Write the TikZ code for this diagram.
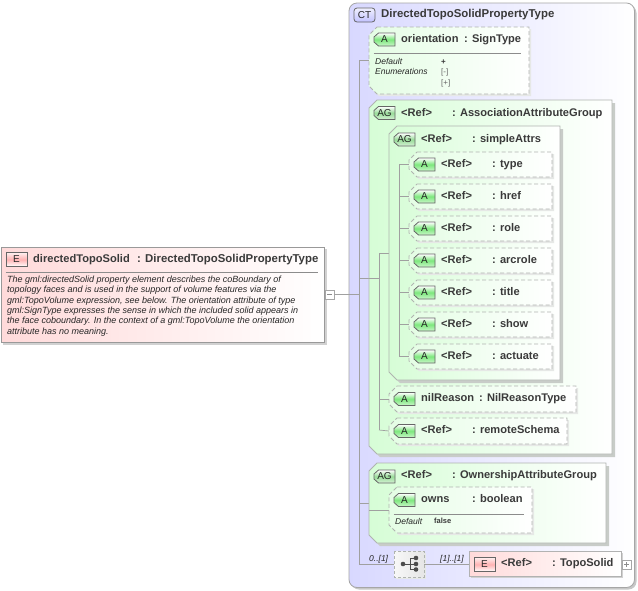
\documentclass[tikz,border=0pt]{standalone}
\usepackage{fontspec}
\setmainfont{Liberation Sans}
\usetikzlibrary{calc}
\definecolor{txt}{HTML}{3A3A3A}
\definecolor{conn}{HTML}{A0A0A0}
\definecolor{edgeg}{HTML}{B0B4B0}
\definecolor{shad}{HTML}{C8CCC8}
\definecolor{shadl}{HTML}{E6E8E6}
\definecolor{grpg}{HTML}{D6FDD6}
\definecolor{atrg}{HTML}{E4FDE4}
\definecolor{pnkl}{HTML}{FFDADA}
\definecolor{lavl}{HTML}{D8D8FF}
\definecolor{badgeg}{HTML}{7CE87C}
\definecolor{badgeag}{HTML}{98DC98}
\pgfdeclarehorizontalshading{grpsh}{100bp}{color(0bp)=(grpg); color(25bp)=(grpg); color(75bp)=(white); color(100bp)=(white)}
\pgfdeclarehorizontalshading{atrsh}{100bp}{color(0bp)=(atrg); color(25bp)=(atrg); color(75bp)=(white); color(100bp)=(white)}
\pgfdeclarehorizontalshading{pnksh}{100bp}{color(0bp)=(pnkl); color(25bp)=(pnkl); color(75bp)=(white); color(100bp)=(white)}
\pgfdeclarehorizontalshading{lavsh}{100bp}{color(0bp)=(lavl); color(25bp)=(lavl); color(75bp)=(white); color(100bp)=(white)}
\tikzset{
  x=1pt,y=-1pt,
  anch/.style={inner sep=0pt,outer sep=0pt},
  conline/.style={draw=conn,line width=0.7pt},
  solidedge/.style={draw=edgeg,line width=0.8pt},
  dashedge/.style={draw=edgeg,line width=0.9pt,dash pattern=on 4pt off 2.5pt},
  greenfill/.style={shade,shading=grpsh,shading angle=0},
  attrfill/.style={shade,shading=atrsh,shading angle=0},
  pinkfill/.style={shade,shading=pnksh,shading angle=0},
  lavfill/.style={shade,shading=lavsh,shading angle=0},
  bold/.style={anchor=base west,inner sep=0pt,text=txt,font=\fontsize{11.1}{13}\selectfont\bfseries},
  boldlong/.style={bold,font=\fontsize{11.4}{13}\selectfont\bfseries},
  ital/.style={anchor=base west,inner sep=0pt,text=black!85,font=\fontsize{9}{10.4}\selectfont\itshape},
  small/.style={anchor=base west,inner sep=0pt,text=txt,font=\fontsize{8}{9}\selectfont},
  badgetxt/.style={inner sep=0pt,text=black!85,font=\fontsize{10}{12}\selectfont},
}
% anchor node of a box
\newcommand{\anchorbox}[5]{\node[anch,minimum width={(#4-#2)*1pt},minimum height={(#5-#3)*1pt}] (#1) at ({(#2+#4)/2},{(#3+#5)/2}) {};}
% chamfered outline
\newcommand{\champath}[4]{(#1+8,#2) -- (#3,#2) -- (#3,#4) -- (#1+8,#4) -- (#1,#4-8) -- (#1,#2+8) -- cycle}
% group box, solid
\newcommand{\groupbox}[5]{\anchorbox{#1}{#2}{#3}{#4}{#5}
  \fill[shad] \champath{#2+3}{#3+3}{#4+3}{#5+3};
  \path[solidedge,greenfill] \champath{#2}{#3}{#4}{#5};}
% attribute box, dashed
\newcommand{\attrbox}[5]{\anchorbox{#1}{#2}{#3}{#4}{#5}
  \fill[shadl] \champath{#2+2}{#3+2}{#4+2}{#5+2};
  \path[attrfill] \champath{#2}{#3}{#4}{#5};
  \path[dashedge] \champath{#2}{#3}{#4}{#5};}
% badges
\newcommand{\badgeshape}[5]{% name,x,y,label,mid colour
  \node[anch,minimum width=21pt,minimum height=13pt] (#1) at (#2+10.5,#3+6.5) {};
  \path[draw=black!60,line width=0.8pt,top color=white,bottom color=white!60!#5,middle color=#5]
    (#2+4.5,#3) -- (#2+21,#3) -- (#2+21,#3+13) -- (#2+4.5,#3+13) -- (#2,#3+9) -- (#2,#3+4) -- cycle;
  \node[badgetxt] (#1-l) at (#1) {#4};}
\newcommand{\badgeA}[4]{\badgeshape{#1}{#2}{#3}{#4}{badgeg}}
\newcommand{\badgeG}[3]{\badgeshape{#1}{#2}{#3}{AG}{badgeag}}
\newcommand{\badgeE}[3]{% name,x,y
  \node[anch,minimum width=21pt,minimum height=14pt] (#1) at (#2+10.5,#3+7) {};
  \path[draw=black!60,line width=0.8pt,top color=red!6!white,bottom color=white,middle color=red!30!white]
    (#2,#3) rectangle (#2+21,#3+14);
  \node[badgetxt] (#1-l) at (#1) {E};}
% attribute row with badge and texts
\newcommand{\row}[6]{% name,x,y(top),label,col2 x,type
  \badgeA{#1-b}{#2}{#3}{A}
  \node[bold] (#1-n) at (#2+27,#3+9) {#4};
  \node[bold] (#1-t) at (#5,#3+9) {: #6};}
\newcommand{\refattr}[3]{% name, top y, type
  \attrbox{#1}{409}{#2}{552}{#2+25}
  \row{#1}{414}{#2+6}{<Ref>}{492}{#3}}
\begin{document}
\begin{tikzpicture}
\useasboundingbox (0,0) rectangle (638,590);
\fill[white] (0,0) rectangle (638,590);

% complex type
\node[anch,minimum width=285pt,minimum height=584pt] (ct) at (491.5,295) {};
\fill[black!22,rounded corners=8pt] (351,5) rectangle (636.5,589.5);
\path[draw=black!35,line width=0.8pt,lavfill,rounded corners=8pt] (349,3) rectangle (634.5,587.5);
\node[anch,minimum width=21pt,minimum height=14pt] (ctb) at (364.5,15) {};
\path[draw=black!60,line width=0.8pt,top color=blue!6!white,bottom color=blue!24!white,rounded corners=3pt] (354,8) rectangle (375,22);
\node[badgetxt] (ctb-l) at (ctb) {CT};
\node[boldlong] (ct-n) at (381,17) {DirectedTopoSolidPropertyType};

% main element
\node[anch,minimum width=323pt,minimum height=95pt] (el) at (162.5,294.5) {};
\fill[black!18] (3,249) rectangle (326.5,344.5);
\path[draw=black!40,line width=0.8pt,pinkfill] (1,247) rectangle (324,342);
\badgeE{el-b}{6}{252.5}
\node[bold] (el-n) at (33,262) {directedTopoSolid};
\node[boldlong] (el-t) at (137,262) {: DirectedTopoSolidPropertyType};
\node[anch] (el-a) at (5,272) {};
\node[anch] (el-c) at (318,272) {};
\draw[draw=black!45,line width=0.7pt] (el-a) -- (el-c);
\node[ital,align=left,anchor=north west] (el-d) at (7,275.5) {The gml:directedSolid property element describes the coBoundary of\\topology faces and is used in the support of volume features via the\\gml:TopoVolume expression, see below. The orientation attribute of type\\gml:SignType expresses the sense in which the included solid appears in\\the face coboundary. In the context of a gml:TopoVolume the orientation\\attribute has no meaning.};
\node[anch,draw=black!35,line width=0.7pt,minimum width=9pt,minimum height=9pt,fill=white] (minus) at (329.5,294.5) {};
\draw[black!45,line width=0.6pt] ($(minus.west)+(2,0)$) -- ($(minus.east)+(-2,0)$);

% trunk
\coordinate (trunk) at (359,294.5);
\coordinate (trunkT) at (359,60);
\coordinate (trunkB) at (359,564);
\coordinate (c-or) at (369,60);
\coordinate (c-as) at (369,278);
\coordinate (c-ow) at (369,503);
\draw[conline] (minus.east) -- (trunk);
\draw[conline] (c-or) -- (trunkT) -- (trunkB);
\draw[conline] (trunk |- c-as) -- (c-as);
\draw[conline] (trunk |- c-ow) -- (c-ow);

% orientation
\attrbox{or}{369}{27}{529}{94}
\row{or}{374}{33}{orientation}{464}{SignType}
\node[anch] (or-a) at (373,53) {};
\node[anch] (or-c) at (521,53) {};
\draw[draw=black!45,line width=0.7pt] (or-a) -- (or-c);
\node[ital] (or-d1) at (375,64) {\fontsize{8.5}{10}\selectfont Default};
\node[ital] (or-d2) at (375,74.5) {\fontsize{8.5}{10}\selectfont Enumerations};
\node[small] (or-v1) at (441,64) {\bfseries +};
\node[small,text=black!60] (or-v2) at (441,74.5) {[-]};
\node[small,text=black!60] (or-v3) at (441,85.5) {[+]};

% association group
\groupbox{as}{369}{100}{612}{454}
\badgeG{as-b}{374}{106.5}
\node[bold] (as-n) at (401,116) {<Ref>};
\node[bold] (as-t) at (452,116) {: AssociationAttributeGroup};
\coordinate (j2) at (379,278);
\coordinate (j2T) at (379,253);
\coordinate (j2B) at (379,430);
\coordinate (j3) at (399,253);
\draw[conline] (c-as) -- (j2);
\draw[conline] (j3) -- (j2T) -- (j2B);

% simpleAttrs
\groupbox{sa}{389}{126}{560}{380}
\badgeG{sa-b}{394}{133}
\node[bold] (sa-n) at (421,142) {<Ref>};
\node[bold] (sa-t) at (472,142) {: simpleAttrs};
\coordinate (j4T) at (399,164.5);
\coordinate (j4B) at (399,356.5);
\draw[conline] (j4T) -- (j4B);

\refattr{ty}{152}{type}
\refattr{hr}{184}{href}
\refattr{ro}{216}{role}
\refattr{ar}{248}{arcrole}
\refattr{ti}{280}{title}
\refattr{sh}{312}{show}
\refattr{ac}{344}{actuate}
\foreach \n in {ty,hr,ro,ar,ti,sh,ac} {\draw[conline] (j4T |- \n.west) -- (\n.west);}

% nilReason, remoteSchema
\attrbox{ni}{389}{386}{576}{412}
\row{ni}{394}{392.5}{nilReason}{479}{NilReasonType}
\attrbox{rs}{389}{418}{567}{444}
\row{rs}{394}{424.5}{<Ref>}{472}{remoteSchema}
\draw[conline] (j2T |- ni.west) -- (ni.west);
\draw[conline] (j2B) -- (rs.west);

% ownership group
\groupbox{ow}{369}{463}{606}{543}
\badgeG{ow-b}{374}{470}
\node[bold] (ow-n) at (401,478) {<Ref>};
\node[bold] (ow-t) at (452,478) {: OwnershipAttributeGroup};
\draw[conline] (369,510) -- (389,510);
\attrbox{ws}{389}{487}{532}{533}
\row{ws}{394}{493.5}{owns}{472}{boolean}
\node[anch] (ws-a) at (393,514) {};
\node[anch] (ws-c) at (524,514) {};
\draw[draw=black!45,line width=0.7pt] (ws-a) -- (ws-c);
\node[ital] (ws-d) at (395,524.5) {\fontsize{8.5}{10}\selectfont Default};
\node[small] (ws-v) at (434,523.5) {\fontsize{7.5}{9}\selectfont\bfseries false};

% sequence compositor
\node[anch,minimum width=30pt,minimum height=26pt] (seq) at (409,564) {};
\fill[shadl] (396,553) rectangle (426,579);
\path[left color=black!3,right color=black!10,draw=edgeg,line width=0.8pt,dash pattern=on 3pt off 2pt] (394,551) rectangle (424,577);
\draw[black!70,line width=0.8pt] (403,564) -- (416,564) (410,558) -- (410,569.5) (410,558) -- (416,558) (410,569.5) -- (416,569.5);
\fill[black!70] (403,564) circle (2.3) (416,558) circle (2.3) (416,564) circle (2.3) (416,569.5) circle (2.3);
\node[ital] (m1) at (369,561) {\fontsize{8.5}{10}\selectfont 0..[1]};
\node[ital] (m2) at (440,561) {\fontsize{8.5}{10}\selectfont [1]..[1]};

% TopoSolid
\node[anch,minimum width=152pt,minimum height=25pt] (ts) at (545,563.5) {};
\fill[black!18] (471,553) rectangle (623,578);
\path[draw=black!30,line width=0.8pt,pinkfill] (469,551) rectangle (621,576);
\badgeE{ts-b}{474}{557.5}
\node[bold] (ts-n) at (501,566) {<Ref>};
\node[bold] (ts-t) at (552,566) {: TopoSolid};
\node[anch,draw=black!35,line width=0.7pt,minimum width=9pt,minimum height=9pt,fill=white] (plus) at (626.5,564.5) {};
\draw[black!45,line width=0.6pt] ($(plus.west)+(2,0)$) -- ($(plus.east)+(-2,0)$) ($(plus.north)+(0,2)$) -- ($(plus.south)+(0,-2)$);
\draw[conline] (trunkB) -- (seq.west);
\draw[conline] (seq.east) -- (seq.east -| ts.west);
\end{tikzpicture}
\end{document}
